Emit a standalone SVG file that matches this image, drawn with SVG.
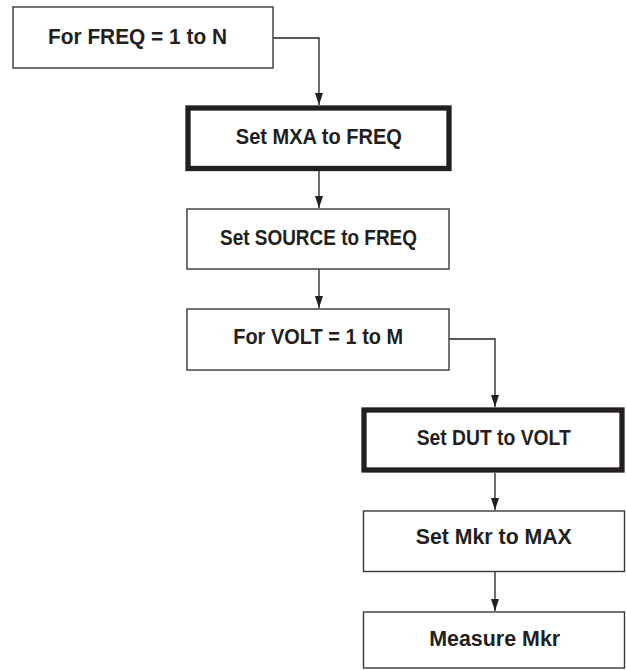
<svg xmlns="http://www.w3.org/2000/svg" width="626" height="670" viewBox="0 0 626 670">
<style>
.box{fill:#fff;stroke:#3a3738;stroke-width:1.4}
.thick{fill:#fff;stroke:#231f20;stroke-width:5.3}
.lbl{font-family:"Liberation Sans",Arial,sans-serif;font-weight:bold;font-size:22.5px;fill:#231f20;text-anchor:middle}
.conn{fill:none;stroke:#231f20;stroke-width:1.3}
</style>
<defs>
<marker id="ah" markerUnits="userSpaceOnUse" markerWidth="14" markerHeight="10" viewBox="0 0 14 10" refX="13" refY="5" orient="auto">
<path d="M1,1 L13,5 L1,9 Z" fill="#231f20"/>
</marker>
</defs>
<rect width="626" height="670" fill="#fff"/>
<g id="connectors">
<path class="conn" d="M273,38 H319 V105" marker-end="url(#ah)"/>
<path class="conn" d="M319,171 V208" marker-end="url(#ah)"/>
<path class="conn" d="M319,269 V308" marker-end="url(#ah)"/>
<path class="conn" d="M449,339 H495 V407" marker-end="url(#ah)"/>
<path class="conn" d="M495,473 V510" marker-end="url(#ah)"/>
<path class="conn" d="M495,571 V611" marker-end="url(#ah)"/>
</g>
<g id="n1">
<rect class="box" x="13" y="7" width="260" height="61"/>
<text class="lbl" x="137.5" y="43.5" textLength="179" lengthAdjust="spacingAndGlyphs">For FREQ = 1 to N</text>
</g>
<g id="n2">
<rect class="thick" x="188" y="108" width="261" height="60.5"/>
<text class="lbl" x="318.8" y="143.5" textLength="166" lengthAdjust="spacingAndGlyphs">Set MXA to FREQ</text>
</g>
<g id="n3">
<rect class="box" x="187" y="209" width="262" height="60"/>
<text class="lbl" x="318.5" y="244.5" textLength="197" lengthAdjust="spacingAndGlyphs">Set SOURCE to FREQ</text>
</g>
<g id="n4">
<rect class="box" x="187" y="309" width="262" height="61"/>
<text class="lbl" x="318.2" y="343.5" textLength="170" lengthAdjust="spacingAndGlyphs">For VOLT = 1 to M</text>
</g>
<g id="n5">
<rect class="thick" x="364" y="410" width="258" height="60"/>
<text class="lbl" x="493.7" y="444.5" textLength="154" lengthAdjust="spacingAndGlyphs">Set DUT to VOLT</text>
</g>
<g id="n6">
<rect class="box" x="363.5" y="511" width="261" height="60.5"/>
<text class="lbl" x="493.8" y="544.2" textLength="156" lengthAdjust="spacingAndGlyphs">Set Mkr to MAX</text>
</g>
<g id="n7">
<rect class="box" x="363.5" y="612" width="261" height="56"/>
<text class="lbl" x="494.7" y="645.8" textLength="131" lengthAdjust="spacingAndGlyphs">Measure Mkr</text>
</g>
</svg>
